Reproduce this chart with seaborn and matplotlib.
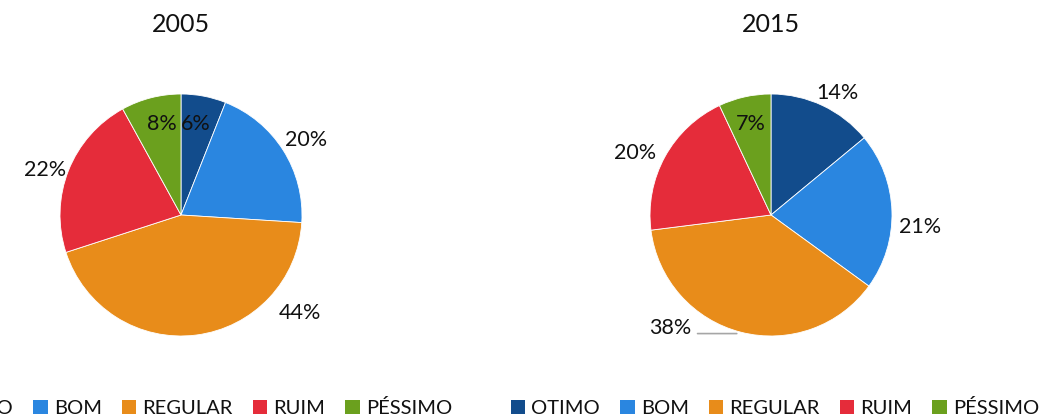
import matplotlib
matplotlib.use("Agg")
import matplotlib.pyplot as plt
import seaborn as sns
from matplotlib.patches import Patch

sns.set_theme(style="white")
plt.rcParams['font.family'] = ['Lato', 'DejaVu Sans']

categories = ["OTIMO", "BOM", "REGULAR", "RUIM", "PÉSSIMO"]
values_2005 = [6, 20, 44, 22, 8]
values_2015 = [14, 21, 38, 20, 7]
years = ["2005", "2015"]

colors = ["#124C8C", "#2A86E0", "#E88C1A", "#E52C3A", "#6BA01E"]

# label positions in units of pie radius (layout only)
label_pos_2005 = [(0.12, 0.75), (1.03, 0.62), (0.98, -0.81), (-1.12, 0.37), (-0.16, 0.75)]
label_pos_2015 = [(0.55, 1.01), (1.23, -0.10), (-0.83, -0.93), (-1.12, 0.51), (-0.17, 0.75)]

W, H = 1043, 417
fig = plt.figure(figsize=(W / 100, H / 100), dpi=100)

R = 121
centers = [(181, 215), (771, 215)]
series = [values_2005, values_2015]
label_sets = [label_pos_2005, label_pos_2015]

for (cx, cy), vals, lp, yr in zip(centers, series, label_sets, years):
    ax = fig.add_axes([(cx - R) / W, (H - cy - R) / H, 2 * R / W, 2 * R / H])
    wedges, _ = ax.pie(vals, colors=colors, startangle=90, counterclock=False,
                       radius=1, wedgeprops=dict(edgecolor="white", linewidth=0.6))
    ax.set_xlim(-1, 1)
    ax.set_ylim(-1, 1)
    ax.set_aspect("equal")
    ax.axis("off")
    for v, (lx, ly) in zip(vals, lp):
        ax.text(lx, ly, f"{v}%", ha="center", va="center", fontsize=15.5,
                color="#111111", clip_on=False)
    if yr == "2015":
        ax.annotate("", xy=(-0.26, -0.98), xytext=(-0.63, -0.98),
                    arrowprops=dict(arrowstyle="-", color="#a6a6a6", lw=1.2),
                    annotation_clip=False)
    fig.text(cx / W, 1 - 24 / H, yr, ha="center", va="center", fontsize=18,
             color="#111111")

handles = [Patch(facecolor=c, edgecolor="none", label=l) for c, l in zip(colors, categories)]
for lcx in (188, 775):
    fig.legend(handles=handles, loc="center", bbox_to_anchor=(lcx / W, 1 - 408 / H),
               ncol=5, frameon=False, fontsize=14.5, handlelength=0.72,
               handleheight=0.72, handletextpad=0.3, columnspacing=1.0,
               borderpad=0, labelcolor="#111111")

fig.savefig("out.png", dpi=100)
